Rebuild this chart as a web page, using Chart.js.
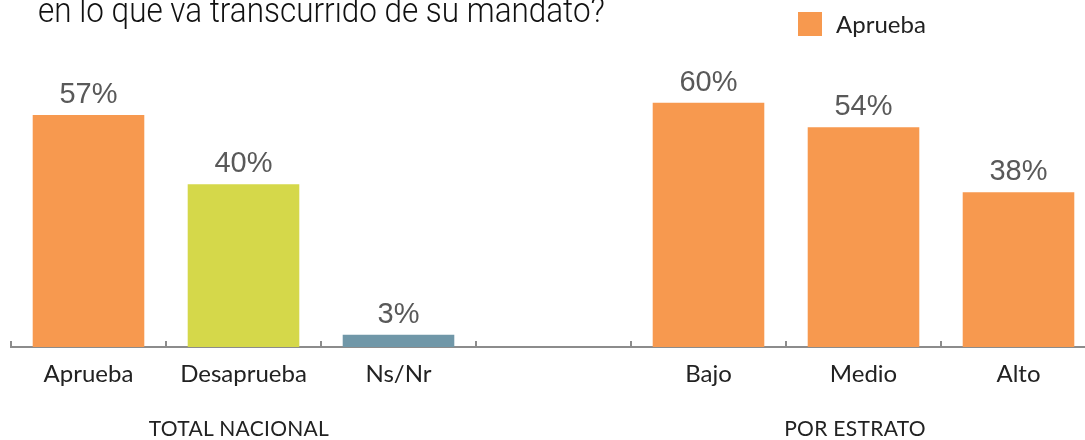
<!DOCTYPE html>
<html>
<head>
<meta charset="utf-8">
<script src="https://cdn.jsdelivr.net/npm/chart.js@4.4.1/dist/chart.umd.min.js"></script>
<style>
  html, body { margin: 0; padding: 0; background: #fff; overflow: hidden; }
  #wrap { position: absolute; left: 0; top: 0; width: 1100px; height: 440px; }
  .txt { position: absolute; white-space: nowrap; font-family: Lato, "Open Sans", sans-serif; font-weight: 400; color: #222; }
  #title { left: 38px; top: -10px; font-family: Roboto, "Liberation Sans Narrow", sans-serif; font-weight: 300;
           font-size: 35px; color: #111; transform-origin: 0 0; }
  #legend { left: 798px; top: 10px; font-size: 24px; line-height: 28px; }
  #legend span.box { display: inline-block; width: 24px; height: 24px; background: #F7994F; vertical-align: top; margin: 2px 14px 0 0; }
  .group { font-size: 21px; letter-spacing: 0.3px; top: 415px; transform: translateX(-50%); }
</style>
</head>
<body>
<div id="wrap"><canvas id="barChart"></canvas></div>
<div class="txt" id="title">en lo que va transcurrido de su mandato?</div>
<div class="txt" id="legend"><span class="box"></span>Aprueba</div>
<div class="txt group" style="left:239px">TOTAL NACIONAL</div>
<div class="txt group" style="left:855px">POR ESTRATO</div>
<script>
document.addEventListener('DOMContentLoaded', () => {

    // --- Data ---
    const categories = ['Aprueba', 'Desaprueba', 'Ns/Nr', '', 'Bajo', 'Medio', 'Alto'];
    const values = [57, 40, 3, null, 60, 54, 38];
    const barColors = ['#F7994F', '#D5D84A', '#7097A8', '#ffffff', '#F7994F', '#F7994F', '#F7994F'];

    // squeeze the title into its condensed width
    const title = document.getElementById('title');
    title.style.transform = 'scaleX(' + (567 / title.offsetWidth) + ')';

    // value labels above each bar
    const valueLabels = {
        id: 'valueLabels',
        afterDatasetsDraw(chart) {
            const ctx = chart.ctx;
            const meta = chart.getDatasetMeta(0);
            ctx.save();
            ctx.font = '29px "Liberation Sans", Arial, sans-serif';
            ctx.fillStyle = '#595959';
            ctx.textAlign = 'center';
            ctx.textBaseline = 'alphabetic';
            meta.data.forEach((bar, i) => {
                if (values[i] == null) return;
                ctx.fillText(values[i] + '%', bar.x, bar.y - 12);
            });
            ctx.restore();
        }
    };

    // small tick marks pointing up from the axis, at category boundaries
    const upTicks = {
        id: 'upTicks',
        afterDraw(chart) {
            const ctx = chart.ctx;
            const xs = chart.scales.x;
            const y = chart.chartArea.bottom;
            ctx.save();
            ctx.strokeStyle = '#8c8c8c';
            ctx.lineWidth = 2;
            for (let i = 0; i <= categories.length; i++) {
                const x = Math.round(xs.getPixelForValue(i - 0.5));
                ctx.beginPath();
                ctx.moveTo(x, y);
                ctx.lineTo(x, y - 6);
                ctx.stroke();
            }
            ctx.restore();
        }
    };

    const ctx = document.getElementById('barChart').getContext('2d');
    new Chart(ctx, {
        type: 'bar',
        data: {
            labels: categories,
            datasets: [{
                label: 'Aprueba',
                data: values,
                backgroundColor: barColors,
                barPercentage: 0.72,
                categoryPercentage: 1.0
            }]
        },
        options: {
            responsive: true,
            maintainAspectRatio: false,
            animation: false,
            layout: { padding: { left: 11, right: 4, top: 62, bottom: 0 } },
            scales: {
                x: {
                    offset: true,
                    grid: { display: true, drawOnChartArea: false, drawTicks: false, offset: true },
                    border: { display: true, color: '#8c8c8c', width: 2 },
                    ticks: {
                        color: '#222',
                        padding: 13,
                        font: { family: 'Lato', size: 24, weight: '400' }
                    },
                    afterFit: s => { s.height = 93; }
                },
                y: {
                    display: false,
                    min: 0,
                    max: 70
                }
            },
            plugins: {
                legend: { display: false },
                tooltip: { enabled: false }
            }
        },
        plugins: [valueLabels, upTicks]
    });
});
</script>
</body>
</html>
